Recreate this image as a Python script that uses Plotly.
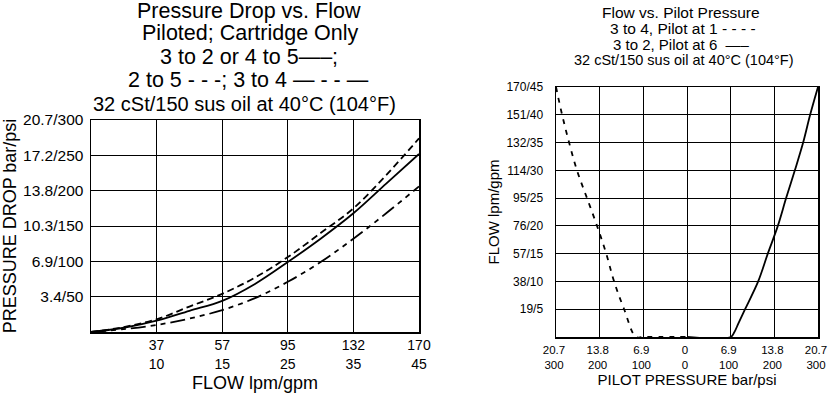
import plotly.graph_objects as go

W, H = 828, 396
FONT = "Liberation Sans, Arial, Helvetica, sans-serif"

# ---------------- Left chart: Pressure Drop vs. Flow ----------------
flow_pos = [0, 0.5, 1, 1.5, 2, 2.5, 3, 3.5, 4, 4.5, 5]          # grid index position
solid_psi = [0, 6, 16, 30, 44, 68, 99, 132, 168, 210, 252]       # 3 to 2 or 4 to 5
dash_psi = [0, 7, 18, 36, 54, 77, 106, 140, 175, 222, 274]       # 2 to 5
dashdot_psi = [0, 4, 10, 19, 31, 48, 71, 99, 132, 168, 206]      # 3 to 4

left_xtick_vals = [1, 2, 3, 4, 5]
left_xtick_text = ["37<br>10", "57<br>15", "95<br>25", "132<br>35", "170<br>45"]
left_ytick_vals = [50, 100, 150, 200, 250, 300]
left_ytick_text = ["3.4/50", "6.9/100", "10.3/150", "13.8/200", "17.2/250", "20.7/300"]

# ---------------- Right chart: Flow vs. Pilot Pressure ----------------
pilot1_psi = [-300, -286, -270, -252, -229, -206, -185, -167, -144, -117, -100, 0]
pilot1_gpm = [45, 40, 35, 30, 25, 20, 15, 10, 5, 0, 0, 0]
pilot6_psi = [0, 100, 108, 118, 133, 163, 185, 208, 227, 247, 266, 282, 300]
pilot6_gpm = [0, 0, 0.8, 2.5, 5, 10, 15, 20, 25, 30, 35, 40, 45]

right_xtick_vals = [-300, -200, -100, 0, 100, 200, 300]
right_xtick_text = ["20.7<br>300", "13.8<br>200", "6.9<br>100", "0<br>0",
                    "6.9<br>100", "13.8<br>200", "20.7<br>300"]
right_ytick_vals = [5, 10, 15, 20, 25, 30, 35, 40, 45]
right_ytick_text = ["19/5", "38/10", "57/15", "76/20", "95/25",
                    "114/30", "132/35", "151/40", "170/45"]

left_title_lines = ["Pressure Drop vs. Flow", "Piloted; Cartridge Only",
                    "3 to 2 or 4 to 5\u2014\u2013;", "2 to 5 - - -; 3 to 4 \u2014 - - \u2014",
                    "32 cSt/150 sus oil at 40\u00b0C (104\u00b0F)"]
right_title_lines = ["Flow vs. Pilot Pressure", "3 to 4, Pilot at 1 - - - -",
                     "3 to 2, Pilot at 6  \u2014\u2013",
                     "32 cSt/150 sus oil at 40\u00b0C (104\u00b0F)"]

fig = go.Figure()

fig.add_trace(go.Scatter(x=flow_pos, y=solid_psi, mode="lines", line_shape="spline",
                         line=dict(color="black", width=1.8), xaxis="x", yaxis="y",
                         name="3 to 2 or 4 to 5"))
fig.add_trace(go.Scatter(x=flow_pos, y=dash_psi, mode="lines", line_shape="spline",
                         line=dict(color="black", width=1.8, dash="7px,4px"), xaxis="x", yaxis="y",
                         name="2 to 5"))
fig.add_trace(go.Scatter(x=flow_pos, y=dashdot_psi, mode="lines", line_shape="spline",
                         line=dict(color="black", width=1.8, dash="15px,5px,5px,5px,5px,5px"),
                         xaxis="x", yaxis="y", name="3 to 4"))

fig.add_trace(go.Scatter(x=pilot1_psi, y=pilot1_gpm, mode="lines", line_shape="spline",
                         line=dict(color="black", width=1.8, dash="5px,6px"), xaxis="x2", yaxis="y2",
                         name="3 to 4, Pilot at 1"))
fig.add_trace(go.Scatter(x=pilot6_psi, y=pilot6_gpm, mode="lines", line_shape="spline",
                         line=dict(color="black", width=1.8), xaxis="x2", yaxis="y2",
                         name="3 to 2, Pilot at 6"))

axis_common = dict(showgrid=True, gridcolor="black", gridwidth=1, showline=True, mirror=True,
                   linecolor="black", linewidth=1.5, zeroline=False, ticks="", automargin=False,
                   ticklabeloverflow="allow",
                   tickfont=dict(family=FONT, color="black"))

fig.update_layout(
    template="none",
    width=W, height=H, autosize=False,
    margin=dict(l=0, r=0, t=0, b=0, pad=0),
    paper_bgcolor="white", plot_bgcolor="white",
    showlegend=False,
    font=dict(family=FONT, color="black"),
    xaxis=dict(domain=[91 / W, 419 / W], range=[0, 5], tickmode="array",
               tickvals=left_xtick_vals, ticktext=left_xtick_text,
               title=dict(text="FLOW lpm/gpm", font=dict(size=18, family=FONT), standoff=6),
               anchor="y", **axis_common),
    yaxis=dict(domain=[1 - 332 / H, 1 - 120 / H], range=[0, 300], tickmode="array",
               tickvals=left_ytick_vals, ticktext=left_ytick_text,
               title=dict(text="PRESSURE DROP bar/psi", font=dict(size=18, family=FONT), standoff=9),
               anchor="x", **axis_common),
    xaxis2=dict(domain=[556 / W, 818 / W], range=[-300, 300], tickmode="array",
                tickvals=right_xtick_vals, ticktext=right_xtick_text,
                title=dict(text="PILOT PRESSURE bar/psi", font=dict(size=15, family=FONT), standoff=4),
                anchor="y2", **axis_common),
    yaxis2=dict(domain=[1 - 337 / H, 1 - 87 / H], range=[0, 45], tickmode="array",
                tickvals=right_ytick_vals, ticktext=right_ytick_text,
                title=dict(text="FLOW lpm/gpm", font=dict(size=15, family=FONT), standoff=3),
                anchor="x2", **axis_common),
)
fig.update_layout(
    xaxis_tickfont_size=14, yaxis_tickfont_size=15.5,
    xaxis2_tickfont_size=11.5, yaxis2_tickfont_size=12,
    yaxis2_ticklabelstandoff=9, yaxis_ticklabelstandoff=3,
    xaxis_ticklabelstandoff=0, xaxis2_ticklabelstandoff=2,
    xaxis2_ticklabelshift=-2,
)

left_pos = [(249, 11, 21.5), (250, 33, 21.5), (249, 57, 21.5), (248, 80, 21.5), (245, 104, 20)]
for txt, (px, py, fs) in zip(left_title_lines, left_pos):
    fig.add_annotation(text=txt, x=px / W, y=1 - py / H, xref="paper", yref="paper",
                       xanchor="center", yanchor="middle", showarrow=False,
                       font=dict(size=fs, family=FONT, color="black"))

right_pos = [(681, 12.5, 15.5), (683, 28.5, 15.5), (681, 44.5, 15), (684, 59.5, 14.5)]
for txt, (px, py, fs) in zip(right_title_lines, right_pos):
    fig.add_annotation(text=txt, x=px / W, y=1 - py / H, xref="paper", yref="paper",
                       xanchor="center", yanchor="middle", showarrow=False,
                       font=dict(size=fs, family=FONT, color="black"))

fig.write_html("out.html", config={"displayModeBar": False, "staticPlot": True},
               post_script="document.body.style.margin='0';")
